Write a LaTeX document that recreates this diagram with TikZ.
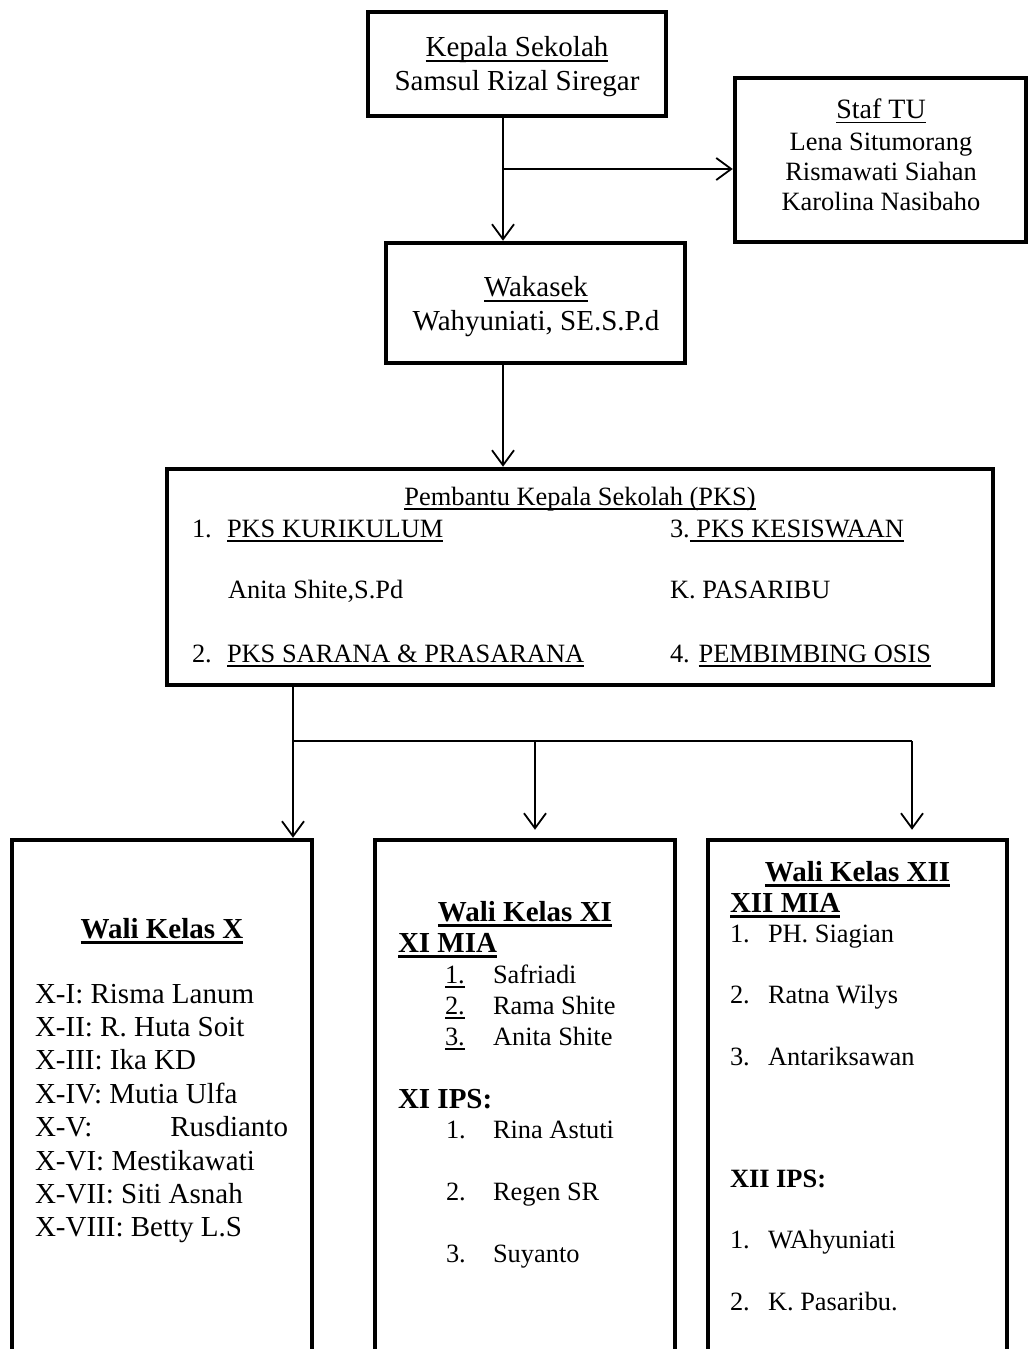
\documentclass[tikz,border=0pt]{standalone}
\usepackage{fontspec}
\setmainfont{Liberation Serif}
\usetikzlibrary{arrows.meta}
\newlength\ulwd
\newcommand\myul[2][0.065em]{\settowidth\ulwd{#2}\rlap{\rule[-0.19em]{\ulwd}{#1}}#2}
\newcommand\myulb[1]{\myul[0.1em]{#1}}
\begin{document}
\begin{tikzpicture}[x=1pt,y=-1pt,
 box/.style={draw, line width=4.5pt, inner sep=0pt},
 conn/.style={line width=1.8pt},
 arr/.style={conn, -{Straight Barb[length=15pt,width=22pt]}},
 txt/.style={inner sep=0pt, outer sep=0pt, anchor=base west},
 ctxt/.style={inner sep=0pt, outer sep=0pt, anchor=base},
 rtxt/.style={inner sep=0pt, outer sep=0pt, anchor=base east},
 fA/.style={font=\fontsize{29}{30}\selectfont},
 fS/.style={font=\fontsize{28}{30}\selectfont},
 fB/.style={font=\fontsize{26.4}{28}\selectfont},
 fH/.style={font=\bfseries\fontsize{29}{30}\selectfont},
 fHs/.style={font=\bfseries\fontsize{26.4}{28}\selectfont},
]
\useasboundingbox (0,0) rectangle (1029,1349);
\clip (0,0) rectangle (1029,1349);

% boxes
\node[box, minimum width=298pt, minimum height=104pt] (kepala) at (517,64) {};
\node[box, minimum width=291pt, minimum height=164pt] (staf) at (880.5,160) {};
\node[box, minimum width=299pt, minimum height=120pt] (wakasek) at (535.5,303) {};
\node[box, minimum width=826pt, minimum height=216pt] (pks) at (580,577) {};
\node[box, minimum width=300pt, minimum height=520pt] (bx) at (162,1100) {};
\node[box, minimum width=300pt, minimum height=520pt] (bxi) at (525,1100) {};
\node[box, minimum width=299pt, minimum height=520pt] (bxii) at (857.5,1100) {};

% connectors
\coordinate (kwx) at (503,0);
\coordinate (br1) at (503,169);
\coordinate (b0) at (293,741);
\coordinate (b1) at (535,741);
\coordinate (b2) at (912,741);
\draw[arr] (kepala.south -| kwx) -- (wakasek.north -| kwx);
\draw[arr] (br1) -- (br1 -| staf.west);
\draw[arr] (wakasek.south -| kwx) -- (pks.north -| kwx);
\draw[conn] (pks.south -| b0) -- (b0) -- (b2);
\draw[arr] (b0) -- (bx.north -| b0);
\draw[arr, shorten >=8pt] (b1) -- (bxi.north -| b1);
\draw[arr, shorten >=8pt] (b2) -- (bxii.north -| b2);

% Kepala
\node[ctxt,fA] (kt1) at (517,56) {\myul{Kepala Sekolah}};
\node[ctxt,fA] (kt2) at (517,90) {Samsul Rizal Siregar};
% Staf
\node[ctxt,fS] (st0) at (881,118) {\myul{Staf TU}};
\node[ctxt,fB] (st1) at (881,150) {Lena Situmorang};
\node[ctxt,fB] (st2) at (881,180) {Rismawati Siahan};
\node[ctxt,fB] (st3) at (881,210) {Karolina Nasibaho};
% Wakasek
\node[ctxt,fA] (wt1) at (536,296) {\myul{Wakasek}};
\node[ctxt,fA] (wt2) at (536,330) {Wahyuniati, SE.S.P.d};
% PKS
\node[ctxt,fB] (p0) at (580,505) {\myul{Pembantu Kepala Sekolah (PKS)}};
\node[txt,fB] (p1n) at (192,537) {1.};
\node[txt,fB] (p1) at (227,537) {\myul{PKS KURIKULUM}};
\node[txt,fB] (p3) at (670,537) {3.\myul{\ PKS KESISWAAN}};
\node[txt,fB] (p1b) at (228,598) {Anita Shite,S.Pd};
\node[txt,fB] (p3b) at (670,598) {K. PASARIBU};
\node[txt,fB] (p2n) at (192,662) {2.};
\node[txt,fB] (p2) at (227,662) {\myul{PKS SARANA \& PRASARANA}};
\node[txt,fB] (p4) at (670,662) {4. \myul{PEMBIMBING OSIS}};

% Wali Kelas X
\node[ctxt,fH] (xh) at (162,938) {\myulb{Wali Kelas X}};
\node[txt,fA] (x1) at (35,1003) {X-I: Risma Lanum};
\node[txt,fA] (x2) at (35,1036.4) {X-II: R. Huta Soit};
\node[txt,fA] (x3) at (35,1069.8) {X-III: Ika KD};
\node[txt,fA] (x4) at (35,1103.2) {X-IV: Mutia Ulfa};
\node[txt,fA] (x5) at (35,1136.6) {X-V:};
\node[rtxt,fA] (x5b) at (288,1136.6) {Rusdianto};
\node[txt,fA] (x6) at (35,1170) {X-VI: Mestikawati};
\node[txt,fA] (x7) at (35,1203.4) {X-VII: Siti Asnah};
\node[txt,fA] (x8) at (35,1236.8) {X-VIII: Betty L.S};

% Wali Kelas XI
\node[ctxt,fH] (xih) at (525,921) {\myulb{Wali Kelas XI}};
\node[txt,fH] (xim) at (398,952) {\myulb{XI MIA}};
\node[txt,fB] (xim1n) at (445,983) {\myul{1.}};
\node[txt,fB] (xim1) at (493,983) {Safriadi};
\node[txt,fB] (xim2n) at (445,1014) {\myul{2.}};
\node[txt,fB] (xim2) at (493,1014) {Rama Shite};
\node[txt,fB] (xim3n) at (445,1045) {\myul{3.}};
\node[txt,fB] (xim3) at (493,1045) {Anita Shite};
\node[txt,fH] (xip) at (398,1108) {XI IPS:};
\node[txt,fB] (xip1n) at (446,1138) {1.};
\node[txt,fB] (xip1) at (493,1138) {Rina Astuti};
\node[txt,fB] (xip2n) at (446,1200) {2.};
\node[txt,fB] (xip2) at (493,1200) {Regen SR};
\node[txt,fB] (xip3n) at (446,1262) {3.};
\node[txt,fB] (xip3) at (493,1262) {Suyanto};

% Wali Kelas XII
\node[ctxt,fH] (xiih) at (857.5,881) {\myulb{Wali Kelas XII}};
\node[txt,fH] (xiim) at (730,912) {\myulb{XII MIA}};
\node[txt,fB] (xiim1n) at (730,942) {1.};
\node[txt,fB] (xiim1) at (768,942) {PH. Siagian};
\node[txt,fB] (xiim2n) at (730,1003) {2.};
\node[txt,fB] (xiim2) at (768,1003) {Ratna Wilys};
\node[txt,fB] (xiim3n) at (730,1065) {3.};
\node[txt,fB] (xiim3) at (768,1065) {Antariksawan};
\node[txt,fHs] (xiip) at (730,1187) {XII IPS:};
\node[txt,fB] (xiip1n) at (730,1248) {1.};
\node[txt,fB] (xiip1) at (768,1248) {WAhyuniati};
\node[txt,fB] (xiip2n) at (730,1310) {2.};
\node[txt,fB] (xiip2) at (768,1310) {K. Pasaribu.};
\end{tikzpicture}
\end{document}
